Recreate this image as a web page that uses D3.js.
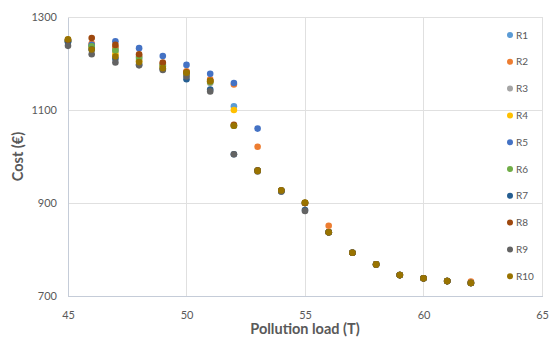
<!DOCTYPE html>
<html>
<head>
<meta charset="utf-8">
<script src="https://cdn.jsdelivr.net/npm/d3@7"></script>
<style>
  html, body { margin: 0; padding: 0; background: #fff; }
  svg { display: block; font-family: Lato, "Open Sans", sans-serif; }
</style>
</head>
<body>
<svg id="chart" width="549" height="341"></svg>
<script>
// Pollution load (T) for every run
const loads = [45, 46, 47, 48, 49, 50, 51, 52, 53, 54, 55, 56, 57, 58, 59, 60, 61, 62];

// Cost (€) per run, one array per scenario
const R1  = [1248, 1238, 1232, 1214, 1198, 1182, 1163, 1108, 970, 927, 900, 837, 793, 768, 745, 738, 732, 728];
const R2  = [1249, 1243, 1235, 1216, 1200, 1183, 1166, 1155, 1021, 927, 900, 851, 793, 768, 745, 738, 732, 731];
const R3  = [1247, 1236, 1226, 1208, 1194, 1176, 1158, 1066, 970, 927, 900, 837, 793, 768, 745, 738, 732, 728];
const R4  = [1249, 1235, 1220, 1205, 1193, 1180, 1162, 1100, 970, 927, 900, 837, 793, 768, 745, 738, 732, 728];
const R5  = [1250, 1240, 1248, 1233, 1216, 1197, 1178, 1158, 1060, 927, 900, 837, 793, 768, 745, 738, 732, 728];
const R6  = [1248, 1237, 1228, 1212, 1196, 1178, 1160, 1066, 970, 927, 900, 837, 793, 768, 745, 738, 732, 728];
const R7  = [1246, 1230, 1210, 1198, 1188, 1166, 1144, 1005, 970, 925, 885, 837, 793, 768, 745, 738, 732, 728];
const R8  = [1251, 1255, 1240, 1220, 1202, 1181, 1163, 1068, 970, 927, 900, 837, 793, 768, 745, 738, 732, 728];
const R9  = [1238, 1220, 1202, 1196, 1186, 1172, 1140, 1005, 968, 925, 883, 837, 793, 768, 745, 738, 732, 728];
const R10 = [1252, 1230, 1215, 1203, 1190, 1180, 1162, 1066, 969, 927, 901, 837, 793, 768, 745, 738, 732, 728];

const seriesNames = ["R1", "R2", "R3", "R4", "R5", "R6", "R7", "R8", "R9", "R10"];
const seriesValues = [R1, R2, R3, R4, R5, R6, R7, R8, R9, R10];
const seriesColors = ["#5B9BD5", "#ED7D31", "#A5A5A5", "#FFC000", "#4472C4",
                      "#70AD47", "#255E91", "#9E480E", "#636363", "#997300"];

const xTicks = [45, 50, 55, 60, 65];
const yTicks = [700, 900, 1100, 1300];

const svg = d3.select("#chart");
const plot = { left: 68, right: 542, top: 17, bottom: 296 };

const x = d3.scaleLinear().domain([45, 65]).range([plot.left, plot.right]);
const y = d3.scaleLinear().domain([700, 1300]).range([plot.bottom, plot.top]);

const textColor = "#595959";
const gridColor = "#E0E0E0";

// gridlines
svg.append("g")
  .selectAll("line.h")
  .data(yTicks.filter(t => t > 700))
  .join("line")
  .attr("x1", plot.left).attr("x2", plot.right)
  .attr("y1", d => y(d)).attr("y2", d => y(d))
  .attr("stroke", gridColor).attr("stroke-width", 1).attr("shape-rendering", "crispEdges");

svg.append("g")
  .selectAll("line.v")
  .data(xTicks.filter(t => t > 45))
  .join("line")
  .attr("x1", d => x(d)).attr("x2", d => x(d))
  .attr("y1", plot.top).attr("y2", plot.bottom)
  .attr("stroke", gridColor).attr("stroke-width", 1).attr("shape-rendering", "crispEdges");

// axes
const xAxis = svg.append("g")
  .attr("transform", `translate(0,${plot.bottom})`)
  .call(d3.axisBottom(x).tickValues(xTicks).tickFormat(d3.format("d")).tickSize(0).tickPadding(15));
xAxis.select(".domain").attr("stroke", "#C5CCD8").attr("shape-rendering", "crispEdges");
xAxis.selectAll("text").attr("fill", textColor).attr("font-size", 11).attr("font-family", "Lato, sans-serif");

const yAxis = svg.append("g")
  .attr("transform", `translate(${plot.left},0)`)
  .call(d3.axisLeft(y).tickValues(yTicks).tickFormat(d3.format("d")).tickSize(0).tickPadding(11));
yAxis.select(".domain").attr("stroke", "#C5CCD8").attr("shape-rendering", "crispEdges");
yAxis.selectAll("text").attr("fill", textColor).attr("font-size", 11).attr("font-family", "Lato, sans-serif");

// axis titles
svg.append("text")
  .attr("x", (plot.left + plot.right) / 2)
  .attr("y", 334)
  .attr("text-anchor", "middle")
  .attr("fill", textColor)
  .attr("font-size", 14.5)
  .attr("font-weight", "bold")
  .text("Pollution load (T)");

svg.append("text")
  .attr("transform", `translate(23,${(plot.top + plot.bottom) / 2}) rotate(-90)`)
  .attr("text-anchor", "middle")
  .attr("fill", textColor)
  .attr("font-size", 14.5)
  .attr("font-weight", "bold")
  .text("Cost (€)");

// scatter series, R1 drawn first so R10 sits on top
const marks = svg.append("g");
seriesValues.forEach((vals, i) => {
  marks.append("g")
    .selectAll("circle")
    .data(vals.map((v, j) => [loads[j], v]))
    .join("circle")
    .attr("cx", d => x(d[0]))
    .attr("cy", d => y(d[1]))
    .attr("r", 3.3)
    .attr("fill", seriesColors[i]);
});

// legend
const legend = svg.append("g");
seriesNames.forEach((name, i) => {
  const ly = 35 + i * 26.8;
  legend.append("circle")
    .attr("cx", 510).attr("cy", ly).attr("r", 3)
    .attr("fill", seriesColors[i]);
  legend.append("text")
    .attr("x", 516).attr("y", ly + 3.5)
    .attr("fill", textColor)
    .attr("font-size", 10)
    .text(name);
});
</script>
</body>
</html>
